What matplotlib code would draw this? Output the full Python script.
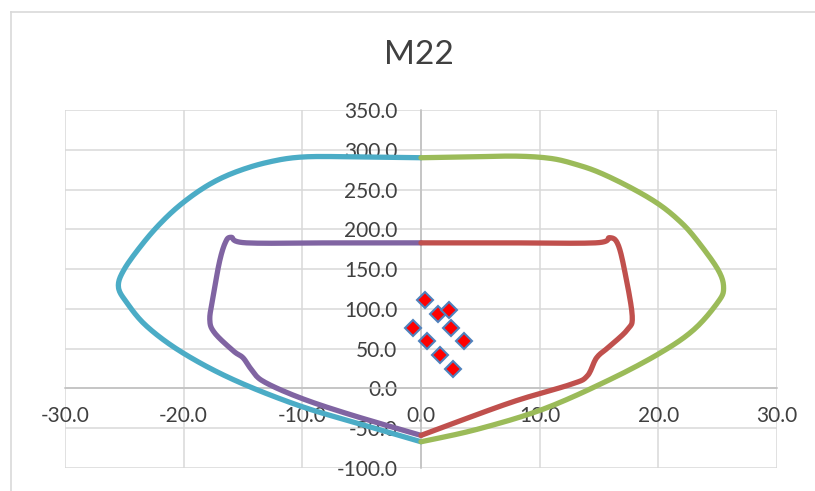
import numpy as np
import matplotlib
matplotlib.use("Agg")
import matplotlib.pyplot as plt
from matplotlib.lines import Line2D

# outer interaction curve, left half (cyan) and right half (green)
outer_left_x = [0.0, -5.0, -9.9, -13.0, -15.8, -18.0, -20.1, -21.8, -23.4, -25.0, -25.5, -24.8, -23.1, -20.1, -15.8, -10.2, -4.6, 0.0]
outer_left_y = [290.0, 291.0, 291.0, 284.0, 271.0, 255.0, 233.0, 210.0, 183.0, 150.0, 128.0, 108.0, 78.0, 45.0, 11.0, -22.0, -47.0, -67.0]
outer_right_x = [0.0, 4.0, 8.0, 11.0, 13.2, 15.1, 17.6, 19.9, 21.6, 23.0, 25.0, 25.5, 25.0, 23.0, 20.2, 15.9, 10.3, 4.7, 0.0]
outer_right_y = [290.0, 291.0, 292.0, 289.0, 281.0, 271.0, 253.0, 233.0, 213.0, 191.0, 150.0, 126.0, 108.0, 74.0, 45.0, 11.0, -26.0, -51.5, -67.0]

# inner curve, left half (purple) and right half (red)
inner_left_x = [0.0, -7.0, -14.7, -16.0, -16.5, -17.0, -17.5, -17.8, -17.4, -15.8, -15.0, -14.3, -13.3, -10.2, -6.0, 0.0]
inner_left_y = [183.0, 183.0, 183.0, 190.0, 183.0, 158.0, 116.0, 87.0, 70.0, 47.0, 38.6, 24.0, 9.0, -11.7, -32.7, -59.0]
inner_right_x = [0.0, 7.0, 14.7, 15.9, 16.6, 17.2, 17.8, 17.4, 15.9, 14.8, 14.0, 12.6, 7.5, 0.0]
inner_right_y = [183.0, 183.0, 183.0, 189.5, 181.0, 145.0, 91.0, 74.0, 53.0, 38.6, 15.5, 5.0, -18.0, -59.0]

# load points
pts_x = [0.34, 1.46, 2.36, -0.65, 2.5, 0.53, 3.66, 1.6, 2.73]
pts_y = [110.6, 94.0, 98.5, 76.0, 76.0, 59.5, 59.5, 42.0, 25.0]


def smooth(xs, ys, n=12):
    # Catmull-Rom, roughly what Excel's "smoothed line" does
    p = np.column_stack([xs, ys])
    p = np.vstack([p[0], p, p[-1]])
    out = []
    for i in range(1, len(p) - 2):
        p0, p1, p2, p3 = p[i - 1], p[i], p[i + 1], p[i + 2]
        for t in np.linspace(0, 1, n, endpoint=False):
            t2, t3 = t * t, t * t * t
            out.append(0.5 * ((2 * p1) + (-p0 + p2) * t
                              + (2 * p0 - 5 * p1 + 4 * p2 - p3) * t2
                              + (-p0 + 3 * p1 - 3 * p2 + p3) * t3))
    out.append(p[-2])
    out = np.array(out)
    return out[:, 0], out[:, 1]


plt.rcParams['font.family'] = ['Lato', 'DejaVu Sans']

fig = plt.figure(figsize=(8.15, 4.91), dpi=100)
ax = fig.add_axes([65 / 815, 1 - 468 / 491, (777 - 65) / 815, (468 - 110) / 491])

lw = 3.8
ax.plot(*smooth(outer_left_x, outer_left_y), color='#4BACC6', lw=lw, solid_capstyle='round', zorder=3)
ax.plot(*smooth(outer_right_x, outer_right_y), color='#9BBB59', lw=lw, solid_capstyle='round', zorder=3)
ax.plot(*smooth(inner_left_x, inner_left_y), color='#8064A2', lw=lw, solid_capstyle='round', zorder=4)
ax.plot(*smooth(inner_right_x, inner_right_y), color='#C0504D', lw=lw, solid_capstyle='round', zorder=4)
ax.plot(pts_x, pts_y, ls='none', marker='D', markersize=8.5, markerfacecolor='#FF0000',
        markeredgecolor='#4F81BD', markeredgewidth=1.5, zorder=5)

ax.set_xlim(-30, 30)
ax.set_ylim(-100, 350)
ax.set_xticks(np.arange(-30, 31, 10))
ax.set_yticks(np.arange(-100, 351, 50))
ax.xaxis.set_major_formatter(lambda v, pos: f"{v:.1f}")
ax.yaxis.set_major_formatter(lambda v, pos: f"{v:.1f}")
ax.grid(True, color='#D9D9D9', lw=1.1, zorder=0)
ax.set_axisbelow(True)

for side in ['top', 'right']:
    ax.spines[side].set_visible(False)
ax.spines['left'].set_position(('data', 0))
ax.spines['bottom'].set_position(('data', 0))
for side in ['left', 'bottom']:
    ax.spines[side].set_color('#BFBFBF')
    ax.spines[side].set_linewidth(1.1)
    ax.spines[side].set_zorder(1)

ax.tick_params(axis='both', length=0, labelsize=15, labelcolor='#404040')
ax.tick_params(axis='y', pad=17)
ax.tick_params(axis='x', pad=13)

fig.text(419 / 815, 1 - 55 / 491, 'M22', ha='center', va='center', fontsize=24, color='#404040')

# chart area border (runs off the right and bottom edges)
fig.add_artist(Line2D([11 / 815, 11 / 815], [0, 1 - 12 / 491], color='#D9D9D9', lw=1.2))
fig.add_artist(Line2D([11 / 815, 1], [1 - 12 / 491, 1 - 12 / 491], color='#D9D9D9', lw=1.2))

fig.savefig('out.png', dpi=100)
